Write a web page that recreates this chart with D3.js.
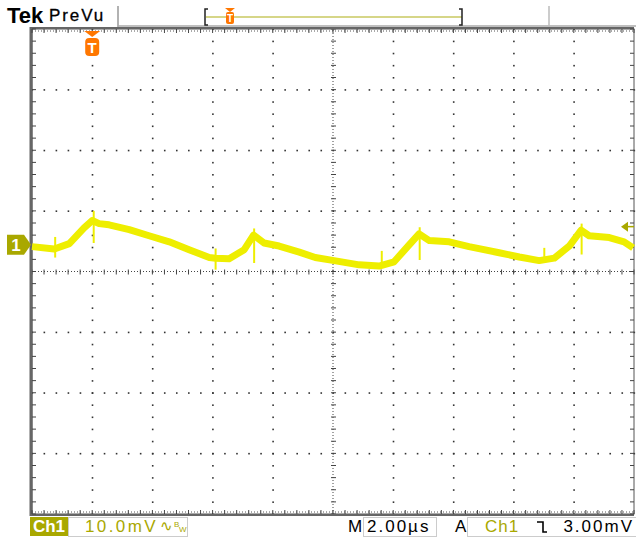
<!DOCTYPE html>
<html>
<head>
<meta charset="utf-8">
<script src="https://cdn.jsdelivr.net/npm/d3@7"></script>
<style>
  body { margin: 0; background: #fff; }
  svg { display: block; }
  text { font-family: "Liberation Sans", Arial, sans-serif; }
</style>
</head>
<body>
<svg id="scope" width="636" height="539"></svg>
<script>
// trace: time in microseconds (trigger at 0), amplitude in mV (relative to ch1 ground)
const timeUs = [-2.0, -1.26, -0.76, -0.27, 0.0, 0.23, 0.56, 1.23, 1.89, 2.56, 3.22, 3.89, 4.1, 4.55, 5.05, 5.36,
  5.71, 6.21, 6.88, 7.41, 8.04, 8.87, 9.53, 10.03, 10.53, 10.86, 11.2, 11.86, 12.52, 13.52, 14.19, 14.85, 15.35,
  15.85, 16.24, 16.51, 17.18, 17.67, 17.97];
const ch1mV = [-0.3, -0.7, 0.2, 2.8, 4.0, 3.5, 3.3, 2.5, 1.5, 0.5, -0.8, -2.1, -2.2, -2.3, -0.8, 1.6,
  0.3, -0.2, -1.2, -2.1, -2.6, -3.3, -3.5, -2.8, 0.0, 1.8, 0.7, 0.5, -0.3, -1.3, -2.0, -2.6, -2.2,
  -0.2, 2.4, 1.5, 1.2, 0.5, -0.5];

// switching glitches: time, top and bottom of each spike
const spikeTime = [-1.23, 0.05, 4.1, 5.38, 9.62, 10.88, 15.02, 16.26];
const spikeHigh = [1.3, 5.6, -0.6, 2.7, -1.0, 2.9, -0.5, 3.5];
const spikeLow = [-2.1, 0.3, -4.1, -3.0, -3.5, -2.5, -2.7, -1.6];

const voltsPerDiv = 10;      // mV/div
const timePerDiv = 2;        // us/div
const groundDiv = 0.44;      // ground marker position above centre, divisions
const triggerLevel = 3.0;    // mV
const readouts = { ch: "Ch1", scale: "10.0mV", time: "2.00\u00b5s", trig: "3.00mV" };

const olive = "#a9a800";
const traceColor = "#eeee00";
const orange = "#ff7700";

const svg = d3.select("#scope");

const x = d3.scaleLinear().domain([-2, 18]).range([32, 634]);
const yDiv = d3.scaleLinear().domain([-4, 4]).range([514, 29]);
const y = v => yDiv(v / voltsPerDiv + groundDiv);

// ---- graticule ----
const g = svg.append("g");
const xMajor = d3.range(-2, 18.01, timePerDiv);
const yMajor = d3.range(-4, 4.01, 1);
const xMinor = d3.range(-2, 18.01, timePerDiv / 5);
const yMinor = d3.range(-4, 4.01, 0.2);

// dots along interior major lines
xMajor.slice(1, -1).forEach(t => {
  if (t === 8) return;
  g.selectAll(null).data(yMinor).enter().append("rect")
    .attr("x", x(t) - 0.5).attr("y", d => yDiv(d) - 0.5)
    .attr("width", 1.6).attr("height", 1.6).attr("fill", "#333");
});
yMajor.slice(1, -1).forEach(d0 => {
  if (d0 === 0) return;
  g.selectAll(null).data(xMinor).enter().append("rect")
    .attr("x", t => x(t) - 0.5).attr("y", yDiv(d0) - 0.5)
    .attr("width", 1.6).attr("height", 1.6).attr("fill", "#333");
});

// centre lines, dotted with tick marks
g.append("line").attr("x1", x(-2)).attr("x2", x(18)).attr("y1", yDiv(0)).attr("y2", yDiv(0))
  .attr("stroke", "#444").attr("stroke-width", 1).attr("stroke-dasharray", "1,2");
g.append("line").attr("x1", x(8)).attr("x2", x(8)).attr("y1", yDiv(-4)).attr("y2", yDiv(4))
  .attr("stroke", "#444").attr("stroke-width", 1).attr("stroke-dasharray", "1,2");
g.selectAll(null).data(xMinor).enter().append("line")
  .attr("x1", t => x(t)).attr("x2", t => x(t))
  .attr("y1", yDiv(0) - 2).attr("y2", yDiv(0) + 3).attr("stroke", "#444");
g.selectAll(null).data(yMinor).enter().append("line")
  .attr("x1", x(8) - 2).attr("x2", x(8) + 3)
  .attr("y1", d => yDiv(d)).attr("y2", d => yDiv(d)).attr("stroke", "#444");

// border with inward ticks
g.append("rect").attr("x", x(-2)).attr("y", yDiv(4)).attr("width", x(18) - x(-2)).attr("height", yDiv(-4) - yDiv(4))
  .attr("fill", "none").attr("stroke", "#555").attr("stroke-width", 1);
g.append("line").attr("x1", x(-2) - 1).attr("x2", x(-2) - 1).attr("y1", yDiv(4) - 2).attr("y2", yDiv(-4) + 2)
  .attr("stroke", "#666").attr("stroke-width", 3);
g.append("line").attr("x1", x(-2) - 2).attr("x2", x(18)).attr("y1", yDiv(4) - 1).attr("y2", yDiv(4) - 1)
  .attr("stroke", "#666").attr("stroke-width", 2);
g.append("line").attr("x1", x(-2) - 2).attr("x2", x(18)).attr("y1", yDiv(-4) + 1).attr("y2", yDiv(-4) + 1)
  .attr("stroke", "#666").attr("stroke-width", 2);
[yDiv(4), yDiv(-4)].forEach((yy, i) => {
  const dir = i === 0 ? 1 : -1;
  g.selectAll(null).data(xMinor).enter().append("line")
    .attr("x1", t => x(t)).attr("x2", t => x(t))
    .attr("y1", yy).attr("y2", yy + dir * 4).attr("stroke", "#444");
  g.append("line").attr("x1", x(-2)).attr("x2", x(18)).attr("y1", yy + dir * 2).attr("y2", yy + dir * 2)
    .attr("stroke", "#555").attr("stroke-dasharray", "1,2");
});
[x(-2), x(18)].forEach((xx, i) => {
  const dir = i === 0 ? 1 : -1;
  g.selectAll(null).data(yMinor).enter().append("line")
    .attr("x1", xx).attr("x2", xx + dir * 4)
    .attr("y1", d => yDiv(d)).attr("y2", d => yDiv(d)).attr("stroke", "#444");
});

// ---- trace ----
const trace = timeUs.map((t, i) => [t, ch1mV[i]]);
const line = d3.line().x(d => x(d[0])).y(d => y(d[1]));
svg.append("path").datum(trace)
  .attr("d", line)
  .attr("fill", "none").attr("stroke", traceColor).attr("stroke-width", 7)
  .attr("stroke-linejoin", "round").attr("stroke-linecap", "butt");
svg.selectAll(null).data(spikeTime).enter().append("line")
  .attr("x1", d => x(d)).attr("x2", d => x(d))
  .attr("y1", (d, i) => y(spikeHigh[i])).attr("y2", (d, i) => y(spikeLow[i]))
  .attr("stroke", traceColor).attr("stroke-width", 2);

// ---- markers ----
// ground marker "1"
const gy = y(0);
svg.append("path")
  .attr("d", `M7,${gy - 10} L24,${gy - 10} L31,${gy} L24,${gy + 10} L7,${gy + 10} Z`)
  .attr("fill", olive);
svg.append("text").attr("x", 16).attr("y", gy + 6).attr("text-anchor", "middle")
  .attr("fill", "#fff").attr("font-size", 17).attr("font-weight", "bold").text("1");

// trigger level arrow on right
const ty = y(triggerLevel);
svg.append("path").attr("d", `M621,${ty} L628,${ty - 5} L628,${ty + 5} Z`).attr("fill", olive);
svg.append("line").attr("x1", 627).attr("x2", 634).attr("y1", ty).attr("y2", ty).attr("stroke", olive).attr("stroke-width", 1.5);

// trigger position marker T
const tx = x(0);
function trigMarker(cx, top) {
  svg.append("path").attr("d", `M${cx - 8},${top} L${cx + 8},${top} L${cx},${top + 6} Z`).attr("fill", orange);
  svg.append("rect").attr("x", cx - 7).attr("y", top + 7).attr("width", 14).attr("height", 18).attr("rx", 4)
    .attr("fill", orange);
  svg.append("text").attr("x", cx).attr("y", top + 22).attr("text-anchor", "middle")
    .attr("fill", "#fff").attr("font-size", 15).attr("font-weight", "bold").text("T");
}
trigMarker(tx, 31);

// ---- header ----
svg.append("text").attr("x", 7).attr("y", 23).attr("font-family", "'Liberation Serif', serif")
  .attr("font-size", 22).attr("font-weight", "bold").attr("fill", "#000").text("Tek");
svg.append("text").attr("x", 49).attr("y", 21).attr("font-size", 17).attr("letter-spacing", 1.9)
  .attr("fill", "#000").attr("stroke", "#000").attr("stroke-width", 0.3).text("PreVu");
svg.append("line").attr("x1", 118).attr("x2", 118).attr("y1", 6).attr("y2", 27).attr("stroke", "#999").attr("stroke-width", 1.5);
svg.append("line").attr("x1", 118).attr("x2", 636).attr("y1", 26).attr("y2", 26).attr("stroke", "#aaa").attr("stroke-width", 1.5);
svg.append("line").attr("x1", 549).attr("x2", 549).attr("y1", 6).attr("y2", 27).attr("stroke", "#bbb").attr("stroke-width", 1.5);

// record view bar
svg.append("line").attr("x1", 206).attr("x2", 462).attr("y1", 17).attr("y2", 17).attr("stroke", "#c8c860").attr("stroke-width", 1.5);
svg.append("path").attr("d", "M208,9 L205,9 L205,25 L208,25").attr("fill", "none").attr("stroke", "#222").attr("stroke-width", 1.5);
svg.append("path").attr("d", "M459,9 L462,9 L462,25 L459,25").attr("fill", "none").attr("stroke", "#222").attr("stroke-width", 1.5);
svg.append("path").attr("d", "M225,8 L235,8 L230,12 Z").attr("fill", orange);
svg.append("rect").attr("x", 226).attr("y", 12).attr("width", 8).attr("height", 12).attr("rx", 2).attr("fill", orange);
svg.append("text").attr("x", 230).attr("y", 22).attr("text-anchor", "middle").attr("fill", "#fff")
  .attr("font-size", 10).attr("font-weight", "bold").text("T");

// ---- readouts ----
const by = 532;
svg.append("rect").attr("x", 30).attr("y", 517).attr("width", 38).attr("height", 19).attr("fill", olive);
svg.append("text").attr("x", 49).attr("y", by).attr("text-anchor", "middle").attr("fill", "#fff")
  .attr("font-size", 17).attr("font-weight", "bold").text(readouts.ch);
svg.append("rect").attr("x", 68.5).attr("y", 517.5).attr("width", 119).attr("height", 19)
  .attr("fill", "none").attr("stroke", "#ccc");
svg.append("text").attr("x", 85).attr("y", by).attr("fill", olive).attr("font-size", 17).attr("letter-spacing", 2.4)
  .text(readouts.scale);
svg.append("text").attr("x", 160).attr("y", by - 1).attr("fill", olive).attr("font-size", 15).text("\u223f");
svg.append("text").attr("x", 174).attr("y", by - 5).attr("fill", olive).attr("font-size", 8).text("B");
svg.append("text").attr("x", 179).attr("y", by).attr("fill", olive).attr("font-size", 8).text("W");

svg.append("text").attr("x", 348).attr("y", by).attr("fill", "#000").attr("font-size", 17).text("M");
svg.append("rect").attr("x", 363.5).attr("y", 517.5).attr("width", 73).attr("height", 19)
  .attr("fill", "none").attr("stroke", "#ccc");
svg.append("text").attr("x", 367).attr("y", by).attr("fill", "#000").attr("font-size", 17).attr("letter-spacing", 2)
  .text(readouts.time);

svg.append("text").attr("x", 455).attr("y", by).attr("fill", "#000").attr("font-size", 17).text("A");
svg.append("rect").attr("x", 467.5).attr("y", 517.5).attr("width", 170).attr("height", 19)
  .attr("fill", "none").attr("stroke", "#ccc");
svg.append("text").attr("x", 485).attr("y", by).attr("fill", olive).attr("font-size", 17).attr("letter-spacing", 1)
  .text(readouts.ch);
svg.append("path").attr("d", "M537,522 L543,522 L543,532 L547,532").attr("fill", "none")
  .attr("stroke", "#000").attr("stroke-width", 1.6);
svg.append("text").attr("x", 634).attr("y", by).attr("text-anchor", "end").attr("fill", "#000")
  .attr("font-size", 17).attr("letter-spacing", 2).text(readouts.trig);
</script>
</body>
</html>
